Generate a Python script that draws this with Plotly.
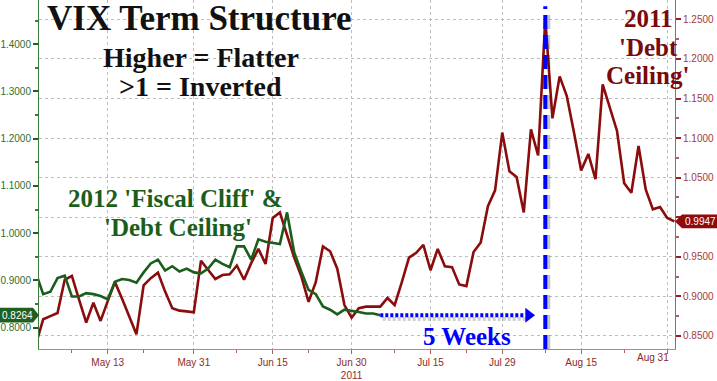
import plotly.graph_objects as go
import pandas as pd

# ---------------- data ----------------
start_date = "2011-04-29"
end_date = "2011-09-01"
dates = [d.strftime("%Y-%m-%d") for d in pd.bdate_range(start_date, end_date)]

red_2011 = [
    0.840, 0.871, 0.875, 0.879, 0.921, 0.926, 0.896, 0.867, 0.892, 0.869,
    0.894, 0.918, 0.897, 0.874, 0.852, 0.914, 0.923, 0.930, 0.906, 0.885,
    0.882, 0.881, 0.880, 0.945, 0.933, 0.922, 0.927, 0.928, 0.939, 0.921,
    0.942, 0.960, 0.941, 0.999, 1.006, 0.976, 0.949, 0.925, 0.893, 0.918,
    0.963, 0.957, 0.935, 0.889, 0.873, 0.885, 0.887, 0.887, 0.887, 0.898,
    0.889, 0.918, 0.949, 0.955, 0.965, 0.933, 0.960, 0.938, 0.937, 0.915,
    0.913, 0.956, 0.968, 1.014, 1.034, 1.107, 1.058, 1.051, 1.006, 1.111,
    1.078, 1.250, 1.125, 1.178, 1.153, 1.107, 1.059, 1.080, 1.048, 1.168,
    1.138, 1.109, 1.043, 1.031, 1.090, 1.035, 1.010, 1.013, 0.999, 0.9947,
]

green_2012 = [
    0.915, 0.871, 0.876, 0.905, 0.910, 0.866, 0.866, 0.873, 0.871, 0.867,
    0.860, 0.897, 0.903, 0.901, 0.895, 0.917, 0.936, 0.944, 0.921, 0.930,
    0.919, 0.925, 0.917, 0.915, 0.925, 0.944, 0.935, 0.928, 0.972, 0.972,
    0.944, 0.987, 0.982, 0.979, 0.977, 1.044, 0.959, 0.918, 0.880, 0.871,
    0.845, 0.838, 0.828, 0.838, 0.836, 0.833, 0.830, 0.830, 0.8264,
]

x_tick_dates = ["2011-05-13", "2011-05-31", "2011-06-15", "2011-06-30",
                "2011-07-15", "2011-07-29", "2011-08-15", "2011-08-31"]
x_tick_text = ["May 13", "May 31", "Jun 15", "Jun 30<br>2011",
               "Jul 15", "Jul 29", "Aug 15", ""]
x_minor_dates = ["2011-05-06", "2011-05-20", "2011-06-08", "2011-06-22",
                 "2011-07-08", "2011-07-22", "2011-08-08", "2011-08-23"]

right_ticks = [0.85, 0.90, 0.95, 1.00, 1.05, 1.10, 1.15, 1.20, 1.25]
right_tick_text = ["0.8500", "0.9000", "0.9500", "", "1.0500", "1.1000",
                   "1.1500", "1.2000", "1.2500"]
left_ticks = [0.8, 0.9, 1.0, 1.1, 1.2, 1.3, 1.4]

# ---------------- styling ----------------
W, H = 717, 381
ML, MR, MT, MB = 39, 42, 0, 26
PW, PH = W - ML - MR, H - MT - MB
X_RANGE = ["2011-04-29 10:00", "2011-09-01 02:00"]
R_RANGE = [0.8335, 1.2745]
L_RANGE = [0.7548, 1.4937]

RED = "#8a0c0c"
GREEN = "#1b5e1b"
BLUE = "#0000ff"
RED_TXT = "#a33a3a"
GREEN_TXT = "#2f6e2f"
GRID = "#bdbdbd"
SERIF = "Liberation Serif"
SANS = "Liberation Sans"


def pxx(px):
    return (px - ML) / PW


def pxy(py):
    return (MT + PH - py) / PH


def red_paper(v):
    return (v - R_RANGE[0]) / (R_RANGE[1] - R_RANGE[0])


def green_paper(v):
    return (v - L_RANGE[0]) / (L_RANGE[1] - L_RANGE[0])


spike_idx = max(range(len(red_2011)), key=lambda i: red_2011[i])
spike_date = pd.Timestamp(dates[spike_idx])
green_end_date = dates[len(green_2012) - 1]
green_end_val = green_2012[-1]
red_end_val = red_2011[-1]

ARROW_LINE_END = "2011-08-03 05:00"
ARROW_HEAD_AT = "2011-08-03 16:00"

fig = go.Figure()

# red 2011 on primary (right) axis
fig.add_trace(go.Scatter(
    x=dates[:len(red_2011)], y=red_2011, mode="lines", yaxis="y",
    line=dict(color=RED, width=2.6), hoverinfo="skip", showlegend=False))

# arrow shadow
fig.add_trace(go.Scatter(
    x=[pd.Timestamp(green_end_date) + pd.Timedelta(hours=8),
       pd.Timestamp(ARROW_LINE_END) + pd.Timedelta(hours=8)],
    y=[green_end_val - 0.008, green_end_val - 0.008], mode="lines", yaxis="y2",
    line=dict(color="rgba(0,0,0,0.18)", width=4, dash="3px,2px"),
    hoverinfo="skip", showlegend=False))

# green 2012 on secondary (left) axis
fig.add_trace(go.Scatter(
    x=dates[:len(green_2012)], y=green_2012, mode="lines", yaxis="y2",
    line=dict(color=GREEN, width=2.6), hoverinfo="skip", showlegend=False))

# dotted "5 weeks" arrow
fig.add_trace(go.Scatter(
    x=[green_end_date, ARROW_LINE_END], y=[green_end_val, green_end_val],
    mode="lines", yaxis="y2",
    line=dict(color=BLUE, width=4, dash="3px,2px"),
    hoverinfo="skip", showlegend=False))
fig.add_trace(go.Scatter(
    x=[ARROW_HEAD_AT], y=[green_end_val], mode="markers", yaxis="y2",
    marker=dict(symbol="triangle-right", size=13, color=BLUE,
                line=dict(width=0)),
    hoverinfo="skip", showlegend=False))

shapes = [
    # shadow of vertical line
    dict(type="line", xref="x", yref="paper",
         x0=spike_date + pd.Timedelta(hours=10), x1=spike_date + pd.Timedelta(hours=10),
         y0=0, y1=0.97, layer="above",
         line=dict(color="rgba(0,0,0,0.22)", width=4, dash="14px,6px")),
    dict(type="line", xref="x", yref="paper", x0=spike_date, x1=spike_date,
         y0=0, y1=0.982, layer="above",
         line=dict(color=BLUE, width=4, dash="14px,6px")),
]

# value tags
gy = green_paper(green_end_val)
gh = 7.5 / PH
shapes.append(dict(
    type="path", xref="paper", yref="paper", layer="above",
    path=(f"M {pxx(0)},{gy + gh} L {pxx(33)},{gy + gh} L {pxx(39)},{gy} "
          f"L {pxx(33)},{gy - gh} L {pxx(0)},{gy - gh} Z"),
    fillcolor="#1f5f1f", line=dict(width=0)))
ry = red_paper(red_end_val)
rh = 7 / PH
shapes.append(dict(
    type="path", xref="paper", yref="paper", layer="above",
    path=(f"M {pxx(675)},{ry} L {pxx(682)},{ry + rh} L {pxx(717)},{ry + rh} "
          f"L {pxx(717)},{ry - rh} L {pxx(682)},{ry - rh} Z"),
    fillcolor="#8f0b0b", line=dict(width=0)))


def ann(text, px, py, size, color, family=SERIF, bold=True):
    return dict(text=text, xref="paper", yref="paper", x=pxx(px), y=pxy(py),
                xanchor="center", yanchor="middle", showarrow=False,
                font=dict(family=family, size=size, color=color,
                          weight="bold" if bold else "normal"))


annotations = [
    ann("VIX Term Structure", 199, 19, 35, "#111111"),
    ann("Higher = Flatter", 201, 58, 28, "#111111"),
    ann("&gt;1 = Inverted", 200, 88, 28, "#111111"),
    ann("2012 'Fiscal Cliff' &amp;", 175, 202, 25, GREEN),
    ann("'Debt Ceiling'", 178, 231, 25, GREEN),
    ann("2011", 648, 19, 25, "#7a0a0a"),
    ann("'Debt", 648, 48, 25, "#7a0a0a"),
    ann("Ceiling'", 647, 77, 25, "#7a0a0a"),
    ann("5 Weeks", 467, 342, 25, BLUE),
    ann("Aug 31", 653, 364, 10, "#8b2a2a", family=SANS, bold=False),
    dict(text=f"{green_end_val:.4f}", xref="paper", yref="paper",
         x=pxx(17), y=gy, xanchor="center", yanchor="middle", showarrow=False,
         font=dict(family=SANS, size=10, color="white")),
    dict(text=f"{red_end_val:.4f}", xref="paper", yref="paper",
         x=pxx(700), y=ry, xanchor="center", yanchor="middle", showarrow=False,
         font=dict(family=SANS, size=10, color="white")),
]

fig.update_layout(
    width=W, height=H, autosize=False,
    margin=dict(l=ML, r=MR, t=MT, b=MB, pad=0),
    paper_bgcolor="white", plot_bgcolor="white",
    showlegend=False,
    shapes=shapes, annotations=annotations,
    xaxis=dict(
        type="date", range=X_RANGE,
        rangebreaks=[dict(bounds=["sat", "mon"])],
        tickmode="array", tickvals=x_tick_dates, ticktext=x_tick_text,
        tickfont=dict(family=SANS, size=10, color="#8b2a2a"),
        ticks="outside", ticklen=4, tickcolor="#b06060",
        showline=True, linecolor="#c08080", linewidth=1,
        showgrid=True, gridcolor=GRID, griddash="dot", gridwidth=1,
        zeroline=False,
        minor=dict(tickmode="array", tickvals=x_minor_dates, ticks="outside",
                   ticklen=3, tickcolor="#b06060", showgrid=False),
    ),
    yaxis=dict(
        side="right", range=R_RANGE,
        tickmode="array", tickvals=right_ticks, ticktext=right_tick_text,
        tickfont=dict(family=SANS, size=10, color=RED_TXT),
        ticks="outside", ticklen=5, tickwidth=2, tickcolor="#9a2020",
        showline=True, linecolor="#b06060", linewidth=1,
        showgrid=True, gridcolor=GRID, griddash="dot", gridwidth=1,
        zeroline=False,
        minor=dict(tickmode="linear", tick0=0.825, dtick=0.05, ticks="outside",
                   ticklen=3, tickcolor="#b06060", showgrid=False),
    ),
    yaxis2=dict(
        side="left", overlaying="y", range=L_RANGE,
        tickmode="array", tickvals=left_ticks,
        ticktext=[f"{v:.4f}" for v in left_ticks],
        tickfont=dict(family=SANS, size=10, color=GREEN_TXT),
        ticks="outside", ticklen=5, tickwidth=2, tickcolor="#1f5f1f",
        showline=True, linecolor="#3a7a3a", linewidth=1,
        showgrid=False, zeroline=False,
        minor=dict(tickmode="linear", tick0=0.75, dtick=0.1, ticks="outside",
                   ticklen=3, tickcolor="#3a7a3a", showgrid=False),
    ),
)

fig.write_html("out.html",
               config={"displayModeBar": False},
               post_script="document.body.style.margin='0';"
                           "document.body.style.padding='0';")
